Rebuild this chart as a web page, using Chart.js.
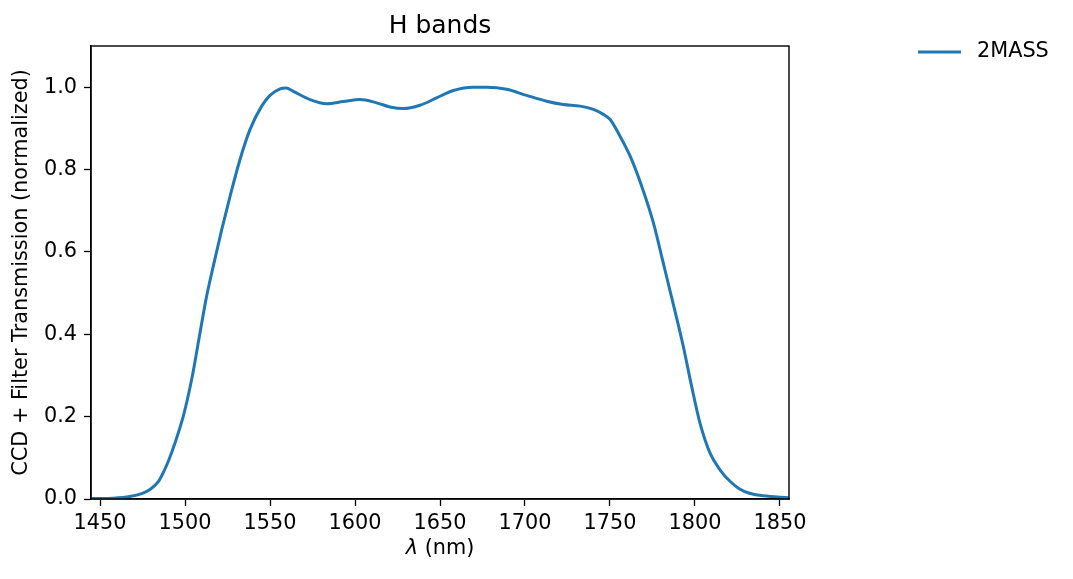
<!DOCTYPE html>
<html>
<head>
<meta charset="utf-8">
<script src="https://cdn.jsdelivr.net/npm/chart.js@4.4.1/dist/chart.umd.min.js"></script>
<style>
  html, body { margin: 0; padding: 0; background: #fff; }
  #wrap { width: 1073px; height: 579px; position: relative; }
</style>
</head>
<body>
<div id="wrap"><canvas id="c" width="1073" height="579"></canvas></div>
<script>
// ---- data ----
const wavelengths = [1445, 1457.8, 1467.6, 1474.5, 1479.4, 1484.3, 1487.2, 1490.6, 1494.1, 1499,
  1503.9, 1508.8, 1512.7, 1516.6, 1521.6, 1526.5, 1532.4, 1538.2, 1545.1, 1550,
  1555.9, 1559.5, 1563.7, 1573.5, 1583.3, 1593.1, 1602.9, 1612.7, 1620.6, 1628.4,
  1638.2, 1648, 1657.8, 1669.6, 1677.5, 1689.2, 1701, 1712.7, 1722.5, 1732.4,
  1740.2, 1746.1, 1750, 1755.9, 1761.8, 1768.6, 1775.5, 1781.4, 1787.3, 1793.1,
  1798, 1802.9, 1808.8, 1814.7, 1820.6, 1826, 1832, 1840.2, 1855];
const transmission2MASS = [0.001, 0.002, 0.006, 0.013, 0.023, 0.042, 0.064, 0.096, 0.136, 0.201,
  0.290, 0.403, 0.492, 0.565, 0.654, 0.735, 0.825, 0.897, 0.954, 0.980,
  0.996, 0.998, 0.990, 0.970, 0.960, 0.965, 0.970, 0.962, 0.952, 0.948,
  0.956, 0.974, 0.992, 1.000, 1.000, 0.995, 0.980, 0.966, 0.958, 0.954,
  0.946, 0.934, 0.922, 0.881, 0.833, 0.760, 0.671, 0.572, 0.472, 0.371,
  0.274, 0.185, 0.112, 0.071, 0.043, 0.025, 0.014, 0.008, 0.003];
const seriesLabel = '2MASS';
const xTicks = [1450, 1500, 1550, 1600, 1650, 1700, 1750, 1800, 1850];
const yTicks = [0.0, 0.2, 0.4, 0.6, 0.8, 1.0];
const titleText = 'H bands';
const xTitleSymbol = 'λ';
const xTitleUnit = ' (nm)';
const yTitle = 'CCD + Filter Transmission (normalized)';

Chart.defaults.font.family = "'DejaVu Sans', sans-serif";
Chart.defaults.color = '#000';

const frame = {
  id: 'frame',
  afterDatasetsDraw(chart) {
    const {ctx, chartArea: a} = chart;
    ctx.save();
    ctx.strokeStyle = '#000';
    ctx.lineWidth = 1.4;
    ctx.strokeRect(a.left, a.top, a.right - a.left, a.bottom - a.top);
    ctx.restore();
  }
};

// x-axis title with an italic lambda, as in the reference
const xAxisTitle = {
  id: 'xAxisTitle',
  afterDraw(chart) {
    const {ctx, chartArea: a} = chart;
    const fItal = "italic 20.8px 'DejaVu Sans', sans-serif";
    const fNorm = "20.8px 'DejaVu Sans', sans-serif";
    ctx.save();
    ctx.fillStyle = '#000';
    ctx.textBaseline = 'middle';
    ctx.textAlign = 'left';
    ctx.font = fItal; const w1 = ctx.measureText(xTitleSymbol).width;
    ctx.font = fNorm; const w2 = ctx.measureText(xTitleUnit).width;
    const cx = (a.left + a.right) / 2;
    const x0 = cx - (w1 + w2) / 2;
    const y = 549;
    ctx.font = fItal; ctx.fillText(xTitleSymbol, x0, y);
    ctx.font = fNorm; ctx.fillText(xTitleUnit, x0 + w1, y);
    ctx.restore();
  }
};

const outsideLegend = {
  id: 'outsideLegend',
  afterDraw(chart) {
    const {ctx} = chart;
    const ds = chart.data.datasets[0];
    const y = 52;
    ctx.save();
    ctx.strokeStyle = ds.borderColor;
    ctx.lineWidth = 3;
    ctx.beginPath();
    ctx.moveTo(918, y);
    ctx.lineTo(961, y);
    ctx.stroke();
    ctx.fillStyle = '#000';
    ctx.font = "20.8px 'DejaVu Sans', sans-serif";
    ctx.textAlign = 'left';
    ctx.textBaseline = 'middle';
    ctx.fillText(ds.label, 977, y);
    ctx.restore();
  }
};

new Chart(document.getElementById('c'), {
  type: 'line',
  data: {
    datasets: [{
      label: seriesLabel,
      data: wavelengths.map((w, i) => ({x: w, y: transmission2MASS[i]})),
      borderColor: '#1f77b4',
      borderWidth: 3,
      pointRadius: 0,
      fill: false,
      cubicInterpolationMode: 'monotone'
    }]
  },
  options: {
    responsive: false,
    animation: false,
    layout: { padding: { left: 0, right: 284, top: 0, bottom: 0 } },
    plugins: {
      legend: { display: false },
      tooltip: { enabled: false },
      title: {
        display: true,
        fullSize: false,
        text: titleText,
        font: { size: 25, weight: 'normal', lineHeight: 1.2 },
        color: '#000',
        padding: { top: 11, bottom: 5 }
      }
    },
    scales: {
      x: {
        type: 'linear',
        min: 1444.7,
        max: 1855.3,
        afterBuildTicks: s => { s.ticks = xTicks.map(v => ({value: v})); },
        afterFit: s => { s.height = 80; },
        ticks: { font: { size: 20.8 }, color: '#000', padding: 5, maxRotation: 0,
                 callback: v => String(v) },
        grid: { display: true, drawOnChartArea: false, drawTicks: true, tickLength: 7,
                color: '#000', tickWidth: 1.3 },
        border: { display: true, color: '#000', width: 1.4 },
        title: { display: false }
      },
      y: {
        type: 'linear',
        min: 0,
        max: 1.1,
        afterBuildTicks: s => { s.ticks = yTicks.map(v => ({value: v})); },
        afterFit: s => { s.width = 91; },
        ticks: { font: { size: 20.8 }, color: '#000', padding: 7,
                 callback: v => Number(v).toFixed(1) },
        grid: { display: true, drawOnChartArea: false, drawTicks: true, tickLength: 7,
                color: '#000', tickWidth: 1.3 },
        border: { display: true, color: '#000', width: 1.4 },
        title: { display: true, text: yTitle, font: { size: 20.8 }, color: '#000',
                 padding: { top: 9, bottom: 0 } }
      }
    }
  },
  plugins: [frame, xAxisTitle, outsideLegend]
});
</script>
</body>
</html>
